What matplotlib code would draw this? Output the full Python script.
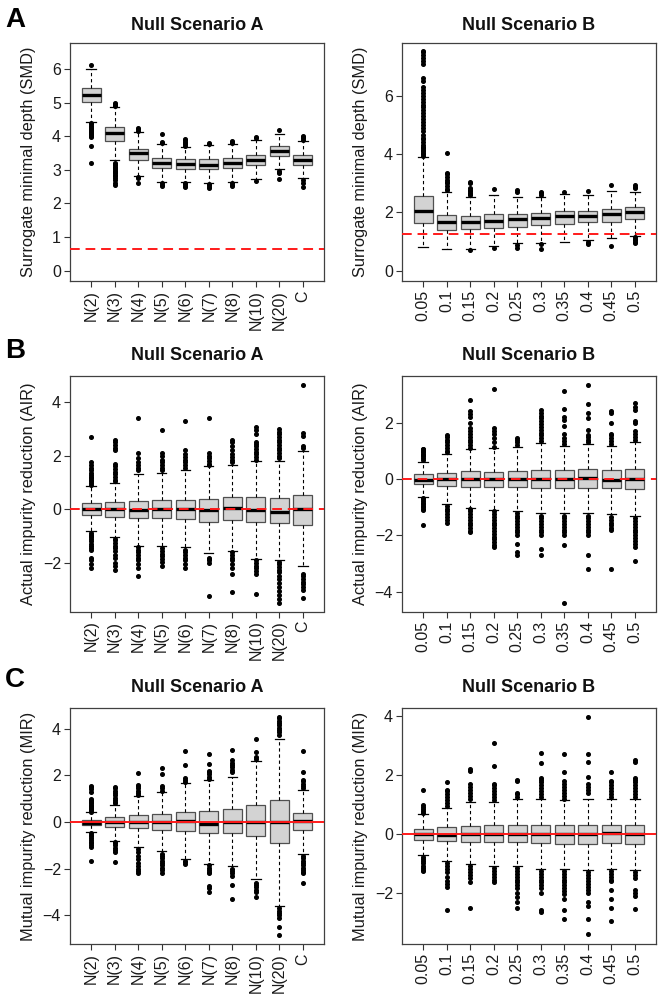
import matplotlib
matplotlib.use('Agg')
import matplotlib.pyplot as plt

plt.rcParams['font.family'] = ['Liberation Sans', 'DejaVu Sans']

# ---------------- categories ----------------
cats_a = ['N(2)', 'N(3)', 'N(4)', 'N(5)', 'N(6)', 'N(7)', 'N(8)', 'N(10)', 'N(20)', 'C']
cats_b = ['0.05', '0.1', '0.15', '0.2', '0.25', '0.3', '0.35', '0.4', '0.45', '0.5']

# ---------------- Panel A: SMD, scenario A ----------------
smd_a_med = [5.23, 4.11, 3.49, 3.21, 3.17, 3.16, 3.22, 3.30, 3.55, 3.30]
smd_a_q1 = [5.02, 3.87, 3.28, 3.05, 3.02, 3.02, 3.07, 3.14, 3.42, 3.14]
smd_a_q3 = [5.43, 4.29, 3.62, 3.36, 3.31, 3.31, 3.35, 3.45, 3.70, 3.44]
smd_a_wlo = [4.44, 3.28, 2.81, 2.65, 2.65, 2.62, 2.65, 2.72, 3.02, 2.75]
smd_a_whi = [6.01, 4.87, 4.12, 3.76, 3.69, 3.74, 3.76, 3.90, 4.08, 3.86]
smd_a_out = [
    [6.11, 4.40, 4.36, 4.32, 4.28, 4.25, 4.22, 4.19, 4.16, 4.13, 4.10, 4.07, 4.04, 4.01, 3.97, 3.71, 3.20],
    [4.90, 4.93, 4.96, 5.00, 3.22, 3.18, 3.14, 3.10, 3.06, 3.02, 2.98, 2.94, 2.90, 2.86, 2.82, 2.77, 2.70, 2.62, 2.56],
    [4.17, 4.21, 4.25, 2.78, 2.76, 2.60],
    [3.80, 3.84, 4.07, 2.60, 2.55, 2.51],
    [3.72, 3.76, 3.80, 3.84, 3.88, 3.92, 2.61, 2.57, 2.53, 2.49],
    [3.77, 3.80, 2.58, 2.54, 2.50, 2.45],
    [3.79, 3.83, 3.87, 2.60, 2.56, 2.52],
    [3.94, 3.98, 2.68],
    [4.19, 2.98, 2.94, 2.90, 2.72],
    [3.90, 3.94, 3.98, 4.01, 2.70, 2.62, 2.50],
]

# ---------------- Panel A: SMD, scenario B ----------------
smd_b_med = [2.05, 1.66, 1.67, 1.72, 1.76, 1.79, 1.86, 1.89, 1.95, 2.00]
smd_b_q1 = [1.63, 1.40, 1.42, 1.47, 1.51, 1.55, 1.59, 1.66, 1.68, 1.78]
smd_b_q3 = [2.57, 1.91, 1.89, 1.94, 1.94, 1.97, 2.03, 2.06, 2.12, 2.18]
smd_b_wlo = [0.82, 0.74, 0.74, 0.86, 0.94, 0.96, 1.00, 1.05, 1.11, 1.20]
smd_b_whi = [3.91, 2.71, 2.52, 2.60, 2.52, 2.54, 2.62, 2.60, 2.74, 2.69]
smd_b_out = [
    [3.95, 4.00, 4.05, 4.10, 4.15, 4.20, 4.25, 4.30, 4.40, 4.50, 4.55, 4.65, 4.80, 4.90, 5.00,
     5.10, 5.20, 5.30, 5.40, 5.50, 5.60, 5.70, 5.80, 5.90, 6.00, 6.10, 6.20, 6.30, 6.50, 6.60,
     7.10, 7.20, 7.30, 7.40, 7.50, 7.55],
    [2.75, 2.80, 2.90, 3.00, 3.05, 3.10, 3.20, 3.30, 3.35, 4.05],
    [2.58, 2.62, 2.68, 2.72, 2.78, 2.85, 3.00, 3.05, 0.71],
    [2.79, 0.77],
    [2.70, 2.75, 0.88, 0.77],
    [2.60, 2.65, 2.70, 0.90, 0.75],
    [2.70],
    [2.72, 1.00, 0.95, 0.90],
    [2.94, 0.85],
    [2.82, 2.88, 2.94, 1.15, 1.10, 1.05, 1.00, 0.95],
]

# ---------------- Panel B: AIR, scenario A ----------------
air_a_med = [0.00, 0.00, -0.02, 0.00, 0.00, -0.02, 0.04, -0.02, -0.09, 0.00]
air_a_q1 = [-0.22, -0.27, -0.34, -0.34, -0.37, -0.47, -0.41, -0.48, -0.52, -0.58]
air_a_q3 = [0.22, 0.27, 0.30, 0.36, 0.36, 0.37, 0.45, 0.45, 0.43, 0.53]
air_a_wlo = [-0.81, -1.04, -1.35, -1.37, -1.42, -1.64, -1.54, -1.84, -1.89, -2.11]
air_a_whi = [0.86, 0.99, 1.32, 1.37, 1.47, 1.61, 1.65, 1.81, 1.80, 2.19]
air_a_out = [
    [0.92, 0.98, 1.05, 1.10, 1.15, 1.20, 1.28, 1.35, 1.45, 1.55, 1.65, 1.75, 2.68,
     -0.88, -0.95, -1.00, -1.05, -1.12, -1.20, -1.28, -1.35, -1.45, -1.52, -1.80, -1.90, -2.05, -2.20],
    [1.05, 1.10, 1.20, 1.30, 1.40, 1.50, 1.60, 1.70, 2.20, 2.30, 2.40, 2.50, 2.60,
     -1.10, -1.15, -1.25, -1.35, -1.45, -1.55, -1.70, -1.80, -2.00, -2.10, -2.25],
    [1.45, 1.55, 1.65, 1.75, 1.90, 2.10, 3.40,
     -1.40, -1.50, -1.60, -1.70, -1.80, -1.90, -2.05, -2.20, -2.50],
    [1.45, 1.55, 1.65, 1.75, 1.85, 2.00, 2.10, 2.95,
     -1.45, -1.55, -1.65, -1.75, -1.85, -1.95, -2.10],
    [1.55, 1.65, 1.75, 1.85, 1.95, 2.05, 2.20, 3.28,
     -1.50, -1.60, -1.70, -1.80, -1.90, -2.05, -2.20],
    [1.65, 1.70, 1.80, 1.90, 2.00, 2.10, 3.42,
     -1.80, -1.85, -1.90, -2.00, -3.25],
    [1.75, 1.85, 1.95, 2.05, 2.20, 2.35, 2.50, 2.60,
     -1.60, -1.70, -1.80, -1.90, -2.05, -2.20, -2.40, -3.10],
    [1.85, 1.95, 2.05, 2.15, 2.25, 2.35, 2.45, 2.50, 2.80, 2.95, 3.05,
     -1.90, -2.00, -2.10, -2.20, -2.30, -2.40, -3.15],
    [1.90, 2.00, 2.10, 2.20, 2.30, 2.40, 2.50, 2.60, 2.70, 2.80, 2.90, 3.00,
     -1.95, -2.05, -2.15, -2.25, -2.35, -2.50, -2.60, -2.75, -2.90, -3.05, -3.20, -3.35, -3.50],
    [2.30, 2.35, 2.75, 2.85, 4.62,
     -2.40, -2.50, -2.60, -2.70, -2.80, -2.90, -3.00, -3.30],
]

# ---------------- Panel B: AIR, scenario B ----------------
air_b_med = [-0.02, -0.01, 0.00, 0.00, 0.00, -0.01, 0.00, 0.02, -0.02, -0.01]
air_b_q1 = [-0.18, -0.24, -0.27, -0.30, -0.30, -0.33, -0.31, -0.31, -0.33, -0.36]
air_b_q3 = [0.17, 0.21, 0.27, 0.26, 0.30, 0.32, 0.31, 0.34, 0.31, 0.34]
air_b_wlo = [-0.63, -0.89, -1.02, -1.10, -1.14, -1.22, -1.22, -1.22, -1.25, -1.31]
air_b_whi = [0.62, 0.89, 1.05, 1.09, 1.15, 1.29, 1.18, 1.23, 1.16, 1.31]
air_b_out = [
    [0.68, 0.75, 0.80, 0.85, 0.90, 0.95, 1.00, 1.05, 1.08,
     -0.68, -0.72, -0.78, -0.85, -0.90, -0.95, -1.00, -1.05, -1.10, -1.65],
    [0.95, 1.00, 1.10, 1.20, 1.30, 1.40, 1.50, 1.55,
     -0.95, -1.05, -1.15, -1.25, -1.35, -1.45, -1.55],
    [1.10, 1.20, 1.30, 1.40, 1.50, 1.60, 1.70, 1.80, 2.00, 2.20, 2.30, 2.40, 2.80,
     -1.05, -1.15, -1.25, -1.35, -1.45, -1.55, -1.65, -1.75, -1.85, -1.90],
    [1.15, 1.30, 1.45, 1.60, 1.70, 1.80, 3.20,
     -1.15, -1.25, -1.35, -1.45, -1.55, -1.65, -1.75, -1.85, -1.95, -2.05, -2.15, -2.25, -2.35, -2.40],
    [1.20, 1.30, 1.40, 1.45,
     -1.20, -1.30, -1.40, -1.50, -1.60, -1.70, -1.80, -1.90, -2.00, -2.30, -2.60, -2.70],
    [1.35, 1.45, 1.55, 1.65, 1.75, 1.85, 1.95, 2.05, 2.15, 2.25, 2.35, 2.45,
     -1.30, -1.40, -1.50, -1.60, -1.70, -1.80, -1.90, -2.00, -2.50, -2.70],
    [1.25, 1.35, 1.45, 1.60, 1.90, 2.10, 2.20, 2.50, 3.12,
     -1.30, -1.40, -1.50, -1.60, -1.70, -1.80, -1.90, -2.00, -2.35, -4.40],
    [1.30, 1.40, 1.50, 1.55, 1.75, 2.15, 2.35, 2.65, 3.35,
     -1.30, -1.40, -1.50, -1.60, -1.70, -1.80, -1.90, -2.00, -2.70, -3.20],
    [1.25, 1.35, 1.45, 1.55, 1.60, 2.00, 2.35, 2.40,
     -1.35, -1.45, -1.55, -1.65, -1.75, -1.80, -3.20],
    [1.40, 1.50, 1.60, 1.70, 2.00, 2.05, 2.45, 2.55, 2.70,
     -1.40, -1.50, -1.60, -1.70, -1.80, -1.90, -2.00, -2.10, -2.20, -2.30, -2.40, -2.90],
]

# ---------------- Panel C: MIR, scenario A ----------------
mir_a_med = [-0.02, 0.00, -0.01, 0.00, 0.04, -0.07, 0.00, 0.00, 0.00, 0.04]
mir_a_q1 = [-0.13, -0.21, -0.27, -0.36, -0.40, -0.47, -0.46, -0.60, -0.90, -0.36]
mir_a_q3 = [0.10, 0.20, 0.29, 0.34, 0.44, 0.46, 0.54, 0.71, 0.94, 0.37]
mir_a_wlo = [-0.43, -0.80, -1.09, -1.26, -1.59, -1.79, -1.90, -2.43, -3.59, -1.36]
mir_a_whi = [0.41, 0.74, 1.10, 1.30, 1.67, 1.81, 1.91, 2.60, 3.57, 1.36]
mir_a_out = [
    [0.45, 0.50, 0.55, 0.60, 0.65, 0.70, 0.75, 0.80, 0.85, 0.90, 0.95, 1.00, 1.30, 1.40, 1.50, 1.55,
     -0.48, -0.55, -0.62, -0.70, -0.78, -0.85, -0.92, -1.00, -1.05, -1.68],
    [0.80, 0.88, 0.95, 1.05, 1.15, 1.25, 1.35, 1.45, 1.50,
     -0.85, -0.90, -1.00, -1.10, -1.20, -1.30, -1.70],
    [1.15, 1.25, 1.35, 1.45, 1.55, 1.60, 2.10,
     -1.15, -1.30, -1.45, -1.60, -1.75, -1.90, -2.00, -2.10, -2.20],
    [1.35, 1.45, 1.55, 2.05, 2.30,
     -1.35, -1.45, -1.55, -1.65, -1.75, -1.85, -1.95, -2.05, -2.20],
    [1.72, 1.80, 1.90, 2.45, 3.05,
     -1.65, -1.72, -1.80],
    [1.85, 1.95, 2.05, 2.15, 2.20, 2.50, 2.90,
     -1.85, -1.95, -2.05, -2.15, -2.20, -2.75, -2.85, -3.00],
    [2.15, 2.25, 2.35, 2.45, 2.55, 2.65, 3.10,
     -2.00, -2.10, -2.20, -2.30, -2.70, -3.30],
    [2.70, 2.80, 3.00, 3.55,
     -2.60, -2.70, -2.80, -2.90, -3.00, -3.20],
    [3.75, 3.85, 3.95, 4.05, 4.15, 4.25, 4.35, 4.45, 4.50,
     -3.70, -3.80, -3.90, -4.00, -4.10, -4.50, -4.85],
    [1.45, 1.55, 1.65, 1.75, 1.80, 2.15, 3.05,
     -1.45, -1.55, -1.65, -1.75, -1.85, -1.95, -2.05, -2.15, -2.20, -2.60],
]

# ---------------- Panel C: MIR, scenario B ----------------
mir_b_med = [0.00, -0.02, 0.00, 0.00, 0.00, 0.00, 0.00, 0.00, 0.02, 0.00]
mir_b_q1 = [-0.19, -0.23, -0.28, -0.27, -0.29, -0.31, -0.33, -0.33, -0.31, -0.33]
mir_b_q3 = [0.17, 0.23, 0.28, 0.29, 0.32, 0.31, 0.31, 0.31, 0.31, 0.31]
mir_b_wlo = [-0.72, -0.93, -1.03, -1.10, -1.08, -1.18, -1.18, -1.23, -1.18, -1.21]
mir_b_whi = [0.69, 0.88, 1.10, 1.09, 1.19, 1.19, 1.14, 1.19, 1.19, 1.19]
mir_b_out = [
    [0.72, 0.78, 0.85, 0.92, 1.00, 1.50,
     -0.78, -0.85, -0.92, -1.00, -1.08, -1.15, -1.22, -1.25],
    [0.95, 1.05, 1.15, 1.25, 1.35, 1.45, 1.50, 1.75,
     -1.00, -1.10, -1.20, -1.30, -1.45, -1.60, -1.70, -1.80, -2.60],
    [1.20, 1.30, 1.40, 1.50, 1.60, 1.70, 2.15, 2.20,
     -1.10, -1.20, -1.30, -1.40, -1.50, -1.65, -2.50],
    [1.15, 1.25, 1.35, 1.45, 1.55, 1.65, 1.70, 2.30, 3.10,
     -1.15, -1.25, -1.35, -1.45, -1.55, -1.65],
    [1.25, 1.35, 1.40, 1.80, 1.85,
     -1.15, -1.25, -1.35, -1.45, -1.55, -1.65, -1.75, -1.85, -2.00, -2.15, -2.30, -2.50],
    [1.25, 1.35, 1.45, 1.55, 1.65, 1.75, 1.85, 1.90, 2.40, 2.75,
     -1.25, -1.35, -1.45, -1.55, -1.65, -1.75, -1.85, -2.00, -2.60, -2.65],
    [1.20, 1.30, 1.40, 1.50, 1.60, 1.70, 1.80, 2.10, 2.70,
     -1.25, -1.35, -1.45, -1.55, -1.65, -1.75, -1.85, -1.95, -2.05, -2.20, -2.60, -2.90],
    [1.40, 1.50, 1.60, 1.70, 1.95, 2.45, 2.70, 3.97,
     -1.30, -1.40, -1.50, -1.60, -1.70, -1.80, -1.90, -2.00, -2.30, -2.45, -2.90, -3.40],
    [1.25, 1.35, 1.45, 1.55, 1.65, 1.75, 1.80, 2.10,
     -1.25, -1.35, -1.45, -1.55, -1.60, -1.90, -2.20, -2.50, -2.95],
    [1.25, 1.35, 1.45, 1.55, 1.65, 1.75, 1.85, 1.90, 2.45, 2.50,
     -1.30, -1.40, -1.50, -1.90, -2.00, -2.10, -2.55],
]

# reference lines
smd_a_ref = 0.645
smd_b_ref = 1.25
zero_ref = 0.0


def make_stats(med, q1, q3, wlo, whi, out):
    return [dict(med=m, q1=a, q3=b, whislo=lo, whishi=hi, fliers=f)
            for m, a, b, lo, hi, f in zip(med, q1, q3, wlo, whi, out)]


W, H = 664, 997
fig = plt.figure(figsize=(W / 100, H / 100), dpi=100)

col_x = [70, 402]
ax_w = 254
rows = [(43, 281), (376, 611.5), (708, 944)]


def add_ax(col, row):
    x0 = col_x[col]
    t, b = rows[row]
    return fig.add_axes([x0 / W, 1 - b / H, ax_w / W, (b - t) / H])


def draw(ax, stats, labels, ylim, yticks, ref, ref_style, ylabel):
    pos = list(range(1, len(stats) + 1))
    ax.bxp(stats, positions=pos, widths=0.8, patch_artist=True, showfliers=True,
           capwidths=0.4,
           boxprops=dict(facecolor='#d3d3d3', edgecolor='#505050', linewidth=0.9),
           medianprops=dict(color='black', linewidth=2.4, solid_capstyle='butt'),
           whiskerprops=dict(color='black', linewidth=0.8, linestyle=(0, (3, 2.5))),
           capprops=dict(color='black', linewidth=0.9),
           flierprops=dict(marker='o', markerfacecolor='black', markeredgecolor='black',
                           markersize=2.6, linestyle='none'))
    if ref_style == 'dashed':
        ax.axhline(ref, color='#ff1a1a', linewidth=1.4, linestyle=(0, (5, 3)), zorder=5)
    else:
        ax.axhline(ref, color='#ff1a1a', linewidth=1.4, zorder=5)
    ax.set_xlim(0.1, 10.9)
    ax.set_ylim(*ylim)
    ax.set_yticks(yticks)
    ax.set_yticklabels([f'{v:g}'.replace('-', '\u2212') for v in yticks])
    ax.set_xticks(pos)
    ax.set_xticklabels(labels, rotation=90)
    ax.tick_params(direction='out', length=4.5, width=0.8, colors='#333333',
                   labelsize=11.5, labelcolor='#1a1a1a', pad=2)
    for s in ax.spines.values():
        s.set_linewidth(0.9)
        s.set_color('#404040')
    ax.set_ylabel(ylabel, fontsize=11.8, color='#1a1a1a')
    ax.yaxis.set_label_coords(-0.135, 0.5)


panels = [
    (0, 0, make_stats(smd_a_med, smd_a_q1, smd_a_q3, smd_a_wlo, smd_a_whi, smd_a_out), cats_a,
     (-0.31, 6.78), [0, 1, 2, 3, 4, 5, 6], smd_a_ref, 'dashed', 'Surrogate minimal depth (SMD)', 'Null Scenario A'),
    (1, 0, make_stats(smd_b_med, smd_b_q1, smd_b_q3, smd_b_wlo, smd_b_whi, smd_b_out), cats_b,
     (-0.355, 7.81), [0, 2, 4, 6], smd_b_ref, 'dashed', 'Surrogate minimal depth (SMD)', 'Null Scenario B'),
    (0, 1, make_stats(air_a_med, air_a_q1, air_a_q3, air_a_wlo, air_a_whi, air_a_out), cats_a,
     (-3.81, 4.97), [-2, 0, 2, 4], zero_ref, 'dashed', 'Actual impurity reduction (AIR)', 'Null Scenario A'),
    (1, 1, make_stats(air_b_med, air_b_q1, air_b_q3, air_b_wlo, air_b_whi, air_b_out), cats_b,
     (-4.71, 3.66), [-4, -2, 0, 2], zero_ref, 'dashed', 'Actual impurity reduction (AIR)', 'Null Scenario B'),
    (0, 2, make_stats(mir_a_med, mir_a_q1, mir_a_q3, mir_a_wlo, mir_a_whi, mir_a_out), cats_a,
     (-5.23, 4.89), [-4, -2, 0, 2, 4], zero_ref, 'solid', 'Mutual impurity reduction (MIR)', 'Null Scenario A'),
    (1, 2, make_stats(mir_b_med, mir_b_q1, mir_b_q3, mir_b_wlo, mir_b_whi, mir_b_out), cats_b,
     (-3.74, 4.28), [-2, 0, 2, 4], zero_ref, 'solid', 'Mutual impurity reduction (MIR)', 'Null Scenario B'),
]

title_base = [29.5, 360, 692]
for col, row, stats, labels, ylim, yticks, ref, style, ylabel, title in panels:
    ax = add_ax(col, row)
    draw(ax, stats, labels, ylim, yticks, ref, style, ylabel)
    cx = (col_x[col] + ax_w / 2) / W
    fig.text(cx, 1 - title_base[row] / H, title, ha='center', va='baseline',
             fontsize=13, fontweight='bold', color='#111111')

letter_base = [(5, 27), (5, 358), (5, 687)]
for (lx, ly), letter in zip(letter_base, ['A', 'B', 'C']):
    fig.text(lx / W, 1 - ly / H, letter, ha='left', va='baseline',
             fontsize=20, fontweight='bold', color='black')

fig.savefig('out.png', dpi=100)
